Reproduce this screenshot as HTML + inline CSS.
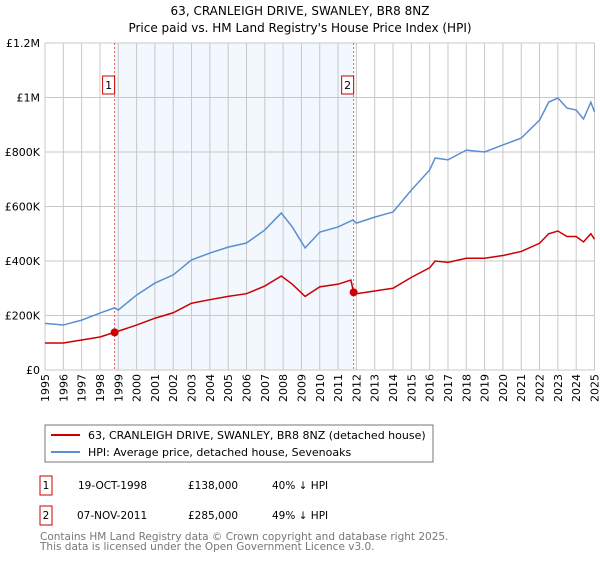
<!DOCTYPE html>
<html><head><meta charset="utf-8"><style>
body{margin:0;width:600px;height:560px;background:#fff;font-family:"Liberation Sans","DejaVu Sans",sans-serif;overflow:hidden}
svg text{font-family:"DejaVu Sans","Liberation Sans",sans-serif}
</style></head><body>
<svg width="600" height="560">
<text x="300" y="15" text-anchor="middle" font-size="12">63, CRANLEIGH DRIVE, SWANLEY, BR8 8NZ</text>
<text x="300" y="32" text-anchor="middle" font-size="12">Price paid vs. HM Land Registry's House Price Index (HPI)</text>
<g id="plot"></g>
<g>
<rect x="45" y="425" width="388" height="37" fill="#fff" stroke="#777"/>
<line x1="51" y1="435" x2="80" y2="435" stroke="#cc0000" stroke-width="2"/>
<text x="88" y="439" font-size="11">63, CRANLEIGH DRIVE, SWANLEY, BR8 8NZ (detached house)</text>
<line x1="51" y1="452" x2="80" y2="452" stroke="#5b8fd0" stroke-width="2"/>
<text x="88" y="456" font-size="11">HPI: Average price, detached house, Sevenoaks</text>
</g>
<g font-size="10.5">
<rect x="40" y="476" width="12" height="19" fill="none" stroke="#cc0000"/><text x="46" y="489" text-anchor="middle">1</text>
<text x="78" y="489">19-OCT-1998</text><text x="188" y="489">£138,000</text><text x="272" y="489">40% ↓ HPI</text>
<rect x="40" y="506" width="12" height="19" fill="none" stroke="#cc0000"/><text x="46" y="519" text-anchor="middle">2</text>
<text x="77" y="519">07-NOV-2011</text><text x="188" y="519">£285,000</text><text x="272" y="519">49% ↓ HPI</text>
</g>
<text x="40" y="540" font-size="10.5" fill="#777">Contains HM Land Registry data © Crown copyright and database right 2025.</text>
<text x="40" y="550" font-size="10.5" fill="#777">This data is licensed under the Open Government Licence v3.0.</text>
</svg>
<script>
const hpiYears=[1995,1996,1997,1998,1998.8,1999,2000,2001,2002,2003,2004,2005,2006,2007,2007.9,2008.5,2009.2,2010,2011,2011.8,2012,2013,2014,2015,2016,2016.3,2017,2018,2019,2020,2021,2022,2022.5,2023,2023.5,2024,2024.4,2024.8,2025];
const hpiValues=[171,165,183,209,228,220,275,319,349,404,429,451,466,514,576,525,448,506,525,550,539,561,580,660,734,778,771,807,800,826,851,917,983,998,961,954,921,983,947];
const priceYears=[1995,1996,1997,1998,1998.8,2000,2001,2002,2003,2004,2005,2006,2007,2007.9,2008.5,2009.2,2010,2011,2011.7,2011.85,2012,2013,2014,2015,2016,2016.3,2017,2018,2019,2020,2021,2022,2022.5,2023,2023.5,2024,2024.4,2024.8,2025];
const priceValues=[99,99,110,121,138,165,190,210,245,258,270,280,308,345,315,270,305,315,330,285,280,290,300,340,375,400,395,410,410,420,435,465,500,510,490,490,470,500,480];
const yTicks=[0,200,400,600,800,1000,1200];
const yTickLabels=["£0","£200K","£400K","£600K","£800K","£1M","£1.2M"];
const xTicks=[1995,1996,1997,1998,1999,2000,2001,2002,2003,2004,2005,2006,2007,2008,2009,2010,2011,2012,2013,2014,2015,2016,2017,2018,2019,2020,2021,2022,2023,2024,2025];
const sales=[{label:"1",year:1998.8,value:138},{label:"2",year:2011.85,value:285}];
const X0=45,X1=594.5,Y0=370,Y1=43;
const x=y=>X0+(y-1995)/30*(X1-X0);
const yv=v=>Y0-v/1200*(Y0-Y1);
const NS="http://www.w3.org/2000/svg";
const g=document.getElementById('plot');
function mk(t,a,p){const e=document.createElementNS(NS,t);for(const k in a)e.setAttribute(k,a[k]);(p||g).appendChild(e);return e;}
mk('rect',{x:x(sales[0].year),y:Y1,width:x(sales[1].year)-x(sales[0].year),height:Y0-Y1,fill:'#eef3fd',opacity:0.7});
xTicks.forEach(t=>{const l=mk('line',{x1:x(t),x2:x(t),y1:Y1,y2:Y0,stroke:'#c8c8c8','stroke-width':1});


const tx=mk('text',{x:0,y:0,'text-anchor':'end','font-size':11,transform:'translate('+(x(t)+4)+','+(Y0+4)+') rotate(-90)'});tx.textContent=t;

});
yTicks.forEach((t,i)=>{const l=mk('line',{x1:X0,x2:X1,y1:yv(t),y2:yv(t),stroke:'#c8c8c8','stroke-width':1});


const tx=mk('text',{x:X0-5,y:yv(t)+4,'text-anchor':'end','font-size':11});tx.textContent=yTickLabels[i];

});
sales.forEach(s=>{const l=mk('line',{x1:x(s.year),x2:x(s.year),y1:Y1,y2:Y0,stroke:'#e06060','stroke-dasharray':'2,2'});


const r=mk('rect',{x:x(s.year)-12,y:76,width:12,height:18,fill:'#fff',stroke:'#cc0000'});


const t=mk('text',{x:x(s.year)-6,y:89,'text-anchor':'middle','font-size':11});t.textContent=s.label;});
const hp=mk('polyline',{points:hpiYears.map((d,i)=>x(d)+','+yv(hpiValues[i])).join(' '),fill:'none',stroke:'#5b8fd0','stroke-width':1.5});


const pp=mk('polyline',{points:priceYears.map((d,i)=>x(d)+','+yv(priceValues[i])).join(' '),fill:'none',stroke:'#cc0000','stroke-width':1.5});


sales.forEach(s=>{const c=mk('circle',{cx:x(s.year),cy:yv(s.value),r:4,fill:'#cc0000'});

});
</script>
</body></html>
